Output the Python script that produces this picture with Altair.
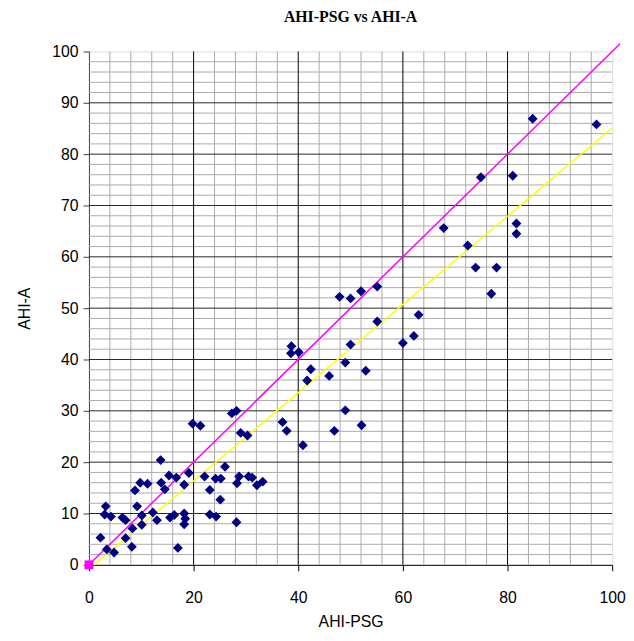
import altair as alt
import pandas as pd

# AHI-PSG (x) and AHI-A (y) readings
x_vals = [2.2, 3.2, 3.0, 4.2, 3.4, 4.8, 6.4, 7.0, 7.0, 8.3, 8.2, 9.2, 10.1, 10.1,
          12.2, 13.0, 15.5, 16.3, 18.2, 18.4, 18.2, 17.0, 8.8, 9.8, 11.2, 13.8,
          14.5, 13.7, 15.3, 16.7, 19.1, 18.2, 19.8, 21.3, 22.1, 23.1, 23.1, 24.3,
          24.2, 25.2, 25.1, 26.0, 27.3, 28.2, 29.0, 30.3, 28.2, 28.7, 28.3, 30.5,
          31.2, 32.1, 33.2, 37.0, 37.8, 40.9, 38.7, 38.6, 40.1, 42.4, 41.7, 45.9,
          46.9, 49.0, 49.0, 50.0, 52.1, 52.9, 47.9, 50.0, 52.0, 55.1, 55.1, 60.0,
          62.1, 63.0, 67.8, 72.4, 73.9, 77.9, 76.9, 74.9, 81.0, 81.7, 81.7, 84.8,
          97.0]
y_vals = [5.3, 11.4, 9.8, 9.4, 3.0, 2.4, 9.2, 8.7, 5.2, 7.1, 3.5, 11.4, 9.6, 7.8,
          10.2, 8.7, 9.2, 9.7, 10.0, 9.0, 7.9, 3.3, 14.5, 16.0, 15.8, 16.0,
          14.7, 20.4, 17.4, 17.0, 17.9, 15.6, 27.5, 27.1, 17.2, 14.6, 9.8, 9.4,
          16.8, 16.8, 12.7, 19.1, 29.5, 30.0, 25.7, 25.2, 8.3, 17.2, 15.9, 17.2,
          17.0, 15.5, 16.2, 27.8, 26.1, 23.3, 42.6, 41.2, 41.4, 38.1, 35.9, 36.8,
          26.1, 30.1, 39.4, 42.9, 27.2, 37.8, 52.2, 51.9, 53.3, 54.2, 47.4, 43.2,
          44.6, 48.7, 65.6, 62.2, 57.9, 57.9, 52.8, 75.5, 75.8, 66.5, 64.5, 86.9,
          85.8]

# identity (y = x) series and fitted trend series
identity_x = [0, 101.5]
identity_y = [0, 101.5]
trend_x = [1.0, 100.0]
trend_y = [0.0, 85.1]
origin_x = [0]
origin_y = [0]

# tick / grid values
x_ticks = [0, 20, 40, 60, 80, 100]
y_ticks = [0, 10, 20, 30, 40, 50, 60, 70, 80, 90, 100]
x_major_grid = [20, 40, 60, 80]
y_major_grid = [10, 20, 30, 40, 50, 60, 70, 80, 90]
x_minor_grid = [v for v in range(4, 100, 4) if v % 20 != 0]
y_minor_grid = [v for v in range(2, 100, 2) if v % 10 != 0]

W, H = 530, 520
FONT = "Liberation Sans"

xs = alt.Scale(domain=[0, 100], nice=False, zero=True)
ys = alt.Scale(domain=[0, 100], nice=False, zero=True)

x_axis = alt.Axis(values=x_ticks, grid=False, title="AHI-PSG", tickColor="#000000",
                  domainColor="#000000", tickSize=6, labelFontSize=16, labelFont=FONT,
                  labelColor="#000000", titleFont=FONT, titleFontSize=16,
                  titleFontWeight="normal", titleColor="#000000", labelPadding=19,
                  titlePadding=8, labelFlush=False)
y_axis = alt.Axis(values=y_ticks, grid=False, title="AHI-A", tickColor="#404040",
                  domainColor="#404040", tickSize=6, labelFontSize=16, labelFont=FONT,
                  labelColor="#000000", titleFont=FONT, titleFontSize=16,
                  titleFontWeight="normal", titleColor="#000000", labelPadding=5,
                  titlePadding=20, labelFlush=False)

def vrules(vals, color, width=1):
    return alt.Chart(pd.DataFrame({"x": vals})).mark_rule(color=color, strokeWidth=width).encode(
        x=alt.X("x:Q", scale=xs, axis=x_axis), y=alt.value(0), y2=alt.value(H))

def hrules(vals, color, width=1):
    return alt.Chart(pd.DataFrame({"y": vals})).mark_rule(color=color, strokeWidth=width).encode(
        y=alt.Y("y:Q", scale=ys, axis=y_axis), x=alt.value(0), x2=alt.value(W))

minor_v = vrules(x_minor_grid, "#ababab")
minor_h = hrules(y_minor_grid, "#ababab")
major_v = vrules(x_major_grid, "#000000")
major_h = hrules(y_major_grid, "#262626")

ident = alt.Chart(pd.DataFrame({"x": identity_x, "y": identity_y})).mark_line(
    color="#ff00ff", strokeWidth=1.5).encode(
    x=alt.X("x:Q", scale=xs, axis=x_axis), y=alt.Y("y:Q", scale=ys, axis=y_axis))

trend = alt.Chart(pd.DataFrame({"x": trend_x, "y": trend_y})).mark_line(
    color="#ffff00", strokeWidth=1.5).encode(
    x=alt.X("x:Q", scale=xs, axis=x_axis), y=alt.Y("y:Q", scale=ys, axis=y_axis))

origin = alt.Chart(pd.DataFrame({"x": origin_x, "y": origin_y})).mark_point(
    shape="square", filled=True, color="#ff00ff", size=80, opacity=1).encode(
    x=alt.X("x:Q", scale=xs, axis=x_axis), y=alt.Y("y:Q", scale=ys, axis=y_axis))

pts = alt.Chart(pd.DataFrame({"x": x_vals, "y": y_vals})).mark_point(
    shape="diamond", filled=True, color="#000080", size=100, opacity=1).encode(
    x=alt.X("x:Q", scale=xs, axis=x_axis), y=alt.Y("y:Q", scale=ys, axis=y_axis))

chart = alt.layer(minor_v, minor_h, major_v, major_h, trend, ident, origin, pts).properties(
    width=W, height=H,
    title=alt.TitleParams("AHI-PSG vs AHI-A", font="Liberation Serif", fontSize=16,
                          fontWeight="bold", color="#000000", anchor="middle", offset=16),
    autosize=alt.AutoSizeParams(type="none"),
    padding={"left": 82, "top": 40, "right": 14, "bottom": 65},
).configure_view(fill="#c0c0c0", stroke="#808080", strokeWidth=1).configure(background="#ffffff")

chart.save("out.html", embed_options={"renderer": "svg", "actions": False})
